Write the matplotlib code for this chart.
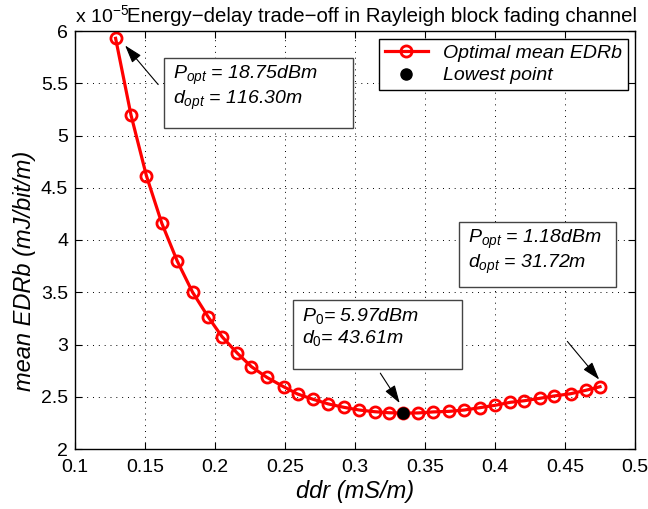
import numpy as np
import matplotlib
matplotlib.use("Agg")
import matplotlib.pyplot as plt
from matplotlib.patches import Rectangle

plt.rcParams['font.family'] = ['Liberation Sans', 'DejaVu Sans']
plt.rcParams['mathtext.fontset'] = 'custom'
plt.rcParams['mathtext.it'] = 'Liberation Sans:italic'
plt.rcParams['mathtext.rm'] = 'Liberation Sans'

# data (ddr in mS/m, mean EDRb in 1e-5 mJ/bit/m)
ddr = [0.129, 0.140, 0.151, 0.162, 0.173, 0.184, 0.195, 0.205, 0.216, 0.226,
       0.237, 0.249, 0.259, 0.270, 0.281, 0.292, 0.303, 0.314, 0.324, 0.334,
       0.345, 0.356, 0.367, 0.378, 0.389, 0.400, 0.411, 0.421, 0.432, 0.442,
       0.454, 0.465, 0.475]
edrb = [5.93, 5.196, 4.615, 4.160, 3.799, 3.500, 3.266, 3.075, 2.916, 2.788,
        2.686, 2.596, 2.526, 2.476, 2.431, 2.399, 2.373, 2.357, 2.347, 2.344,
        2.345, 2.355, 2.360, 2.373, 2.395, 2.418, 2.447, 2.462, 2.485, 2.507,
        2.529, 2.562, 2.596]
low_x = [0.334]
low_y = [2.344]

xticks = [0.1, 0.15, 0.2, 0.25, 0.3, 0.35, 0.4, 0.45, 0.5]
xticklabels = ['0.1', '0.15', '0.2', '0.25', '0.3', '0.35', '0.4', '0.45', '0.5']
yticks = [2, 2.5, 3, 3.5, 4, 4.5, 5, 5.5, 6]
yticklabels = ['2', '2.5', '3', '3.5', '4', '4.5', '5', '5.5', '6']

W, H = 648, 509
L, T, R, B = 75, 31, 635, 449   # axes box in pixels

fig = plt.figure(figsize=(W/100, H/100), dpi=100)
ax = fig.add_axes([L/W, 1-B/H, (R-L)/W, (B-T)/H])


def ax_frac(px, py):
    return (px - L) / (R - L), (B - py) / (B - T)


ax.plot(ddr, edrb, '-o', color='red', lw=2.3, ms=8, mfc='none', mew=2,
        label='Optimal mean EDRb')
ax.plot(low_x, low_y, 'o', color='black', ms=8, label='Lowest point')

ax.set_xlim(0.1, 0.5)
ax.set_ylim(2, 6)
ax.set_xticks(xticks)
ax.set_xticklabels(xticklabels)
ax.set_yticks(yticks)
ax.set_yticklabels(yticklabels)
ax.tick_params(direction='in', top=True, right=True, length=5, labelsize=14)
ax.tick_params(axis='x', pad=7)
ax.tick_params(axis='y', pad=5)
ax.grid(True, color='black', linestyle=(0, (1, 5)), lw=0.7)
for s in ax.spines.values():
    s.set_linewidth(1.0)

ax.set_xlabel('ddr (mS/m)', fontsize=17, style='italic', labelpad=3)
ax.set_ylabel('mean EDRb (mJ/bit/m)', fontsize=17, style='italic')
ax.yaxis.set_label_coords(-0.07, 0.426)
ax.text(0.0, 1.012, r'x 10$^{-5}$', transform=ax.transAxes, fontsize=14,
        ha='left', va='bottom')
ax.text(0.549, 1.012, 'Energy\u2212delay trade\u2212off in Rayleigh block fading channel',
        transform=ax.transAxes, fontsize=14.7, ha='center', va='bottom')

leg = ax.legend(loc='upper right', bbox_to_anchor=(0.9875, 0.982), borderaxespad=0,
                fancybox=False, edgecolor='black', framealpha=1,
                prop={'style': 'italic', 'size': 14}, handlelength=2.2,
                borderpad=0.3, labelspacing=0.25)
leg.get_frame().set_linewidth(1.0)

# annotation text boxes (pixel boxes: left, top, right, bottom)
boxes = [((164, 58, 353, 128), '$P_{opt}$ = 18.75dBm\n$d_{opt}$ = 116.30m'),
         ((459, 222, 616, 287), '$P_{opt}$ = 1.18dBm\n$d_{opt}$ = 31.72m'),
         ((293, 300, 462, 369), '$P_0$= 5.97dBm\n$d_0$= 43.61m')]
for (x0, y0, x1, y1), s in boxes:
    fx0, fy1 = ax_frac(x0, y1)
    fx1, fy0 = ax_frac(x1, y0)
    ax.add_patch(Rectangle((fx0, fy1), fx1 - fx0, fy0 - fy1, transform=ax.transAxes,
                           fc='white', ec='#444444', lw=1, zorder=4))
    tx, ty = ax_frac(x0 + 9, y0 + 6)
    ax.text(tx, ty, s, transform=ax.transAxes, fontsize=14, style='italic',
            ha='left', va='top', linespacing=1.1, zorder=5)

arrow = dict(arrowstyle='-|>,head_length=1.1,head_width=0.35', color='black', lw=0.8)
ax.annotate('', xy=(0.1345, 5.882), xytext=(0.1607, 5.467), arrowprops=arrow)
ax.annotate('', xy=(0.4757, 2.644), xytext=(0.4504, 3.050), arrowprops=arrow)
ax.annotate('', xy=(0.333, 2.417), xytext=(0.317, 2.748), arrowprops=arrow)

fig.savefig('out.png', dpi=100)
